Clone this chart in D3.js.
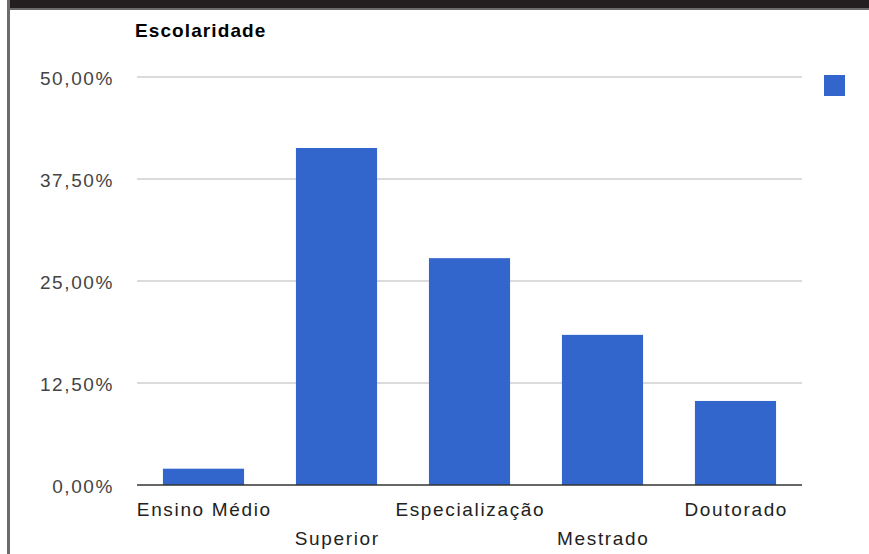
<!DOCTYPE html>
<html><head><meta charset="utf-8">
<script src="https://cdn.jsdelivr.net/npm/d3@7"></script>
<style>body{margin:0;background:#fff}svg{display:block}</style>
</head><body>
<svg id="c" width="869" height="554"></svg>
<script>
const categories = ["Ensino Médio","Superior","Especialização","Mestrado","Doutorado"];
const values = [2.0, 41.3, 27.8, 18.4, 10.3];
const tickValues = [0, 12.5, 25, 37.5, 50];
const tickLabels = ["0,00%","12,50%","25,00%","37,50%","50,00%"];
const title = "Escolaridade";

const FONT = "Liberation Sans, Arial, sans-serif";
const svg = d3.select("#c");
// frame
svg.append("rect").attr("x",9).attr("y",0).attr("width",860).attr("height",8).attr("fill","#231f20");
svg.append("rect").attr("x",9).attr("y",8).attr("width",860).attr("height",2).attr("fill","#6b6b6b");
svg.append("rect").attr("x",7).attr("y",0).attr("width",3).attr("height",554).attr("fill","#6b6b6b");

const x = d3.scaleBand().domain(categories).range([137,802]).paddingInner(0.39).paddingOuter(0.195);
const y = d3.scaleLinear().domain([0,50]).range([485,77]);

// gridlines
svg.append("g").selectAll("line").data(tickValues.slice(1)).join("line")
  .attr("x1",137).attr("x2",802).attr("y1",d=>y(d)).attr("y2",d=>y(d))
  .attr("stroke","#cfcfcf").attr("stroke-width",1.3);

// y labels
svg.append("g").selectAll("text").data(tickValues).join("text")
  .attr("x",114).attr("y",d=>y(d)+7.5).attr("text-anchor","end")
  .attr("font-family",FONT).attr("font-size",19).attr("fill","#444")
  .attr("letter-spacing",1.6)
  .text((d,i)=>tickLabels[i]);

// bars
svg.append("g").selectAll("rect").data(values).join("rect")
  .attr("x",(d,i)=>x(categories[i])).attr("width",x.bandwidth())
  .attr("y",d=>y(d)).attr("height",d=>y(0)-y(d)).attr("fill","#3366cc");

// baseline
svg.append("line").attr("x1",137).attr("x2",802).attr("y1",y(0)).attr("y2",y(0)).attr("stroke","#333").attr("stroke-width",1.3);

// x labels
svg.append("g").selectAll("text").data(categories).join("text")
  .attr("x",d=>x(d)+x.bandwidth()/2+0.8).attr("y",(d,i)=> i%2===0 ? 516 : 545)
  .attr("text-anchor","middle")
  .attr("font-family",FONT).attr("font-size",19).attr("fill","#222")
  .attr("letter-spacing",1.65)
  .text(d=>d);

// title
svg.append("text").attr("x",135).attr("y",37).attr("font-family",FONT)
  .attr("font-size",19).attr("font-weight","bold").attr("fill","#000")
  .attr("letter-spacing",1.1).text(title);

// legend
svg.append("rect").attr("x",824).attr("y",75).attr("width",21).attr("height",21).attr("fill","#3366cc");
</script>
</body></html>
